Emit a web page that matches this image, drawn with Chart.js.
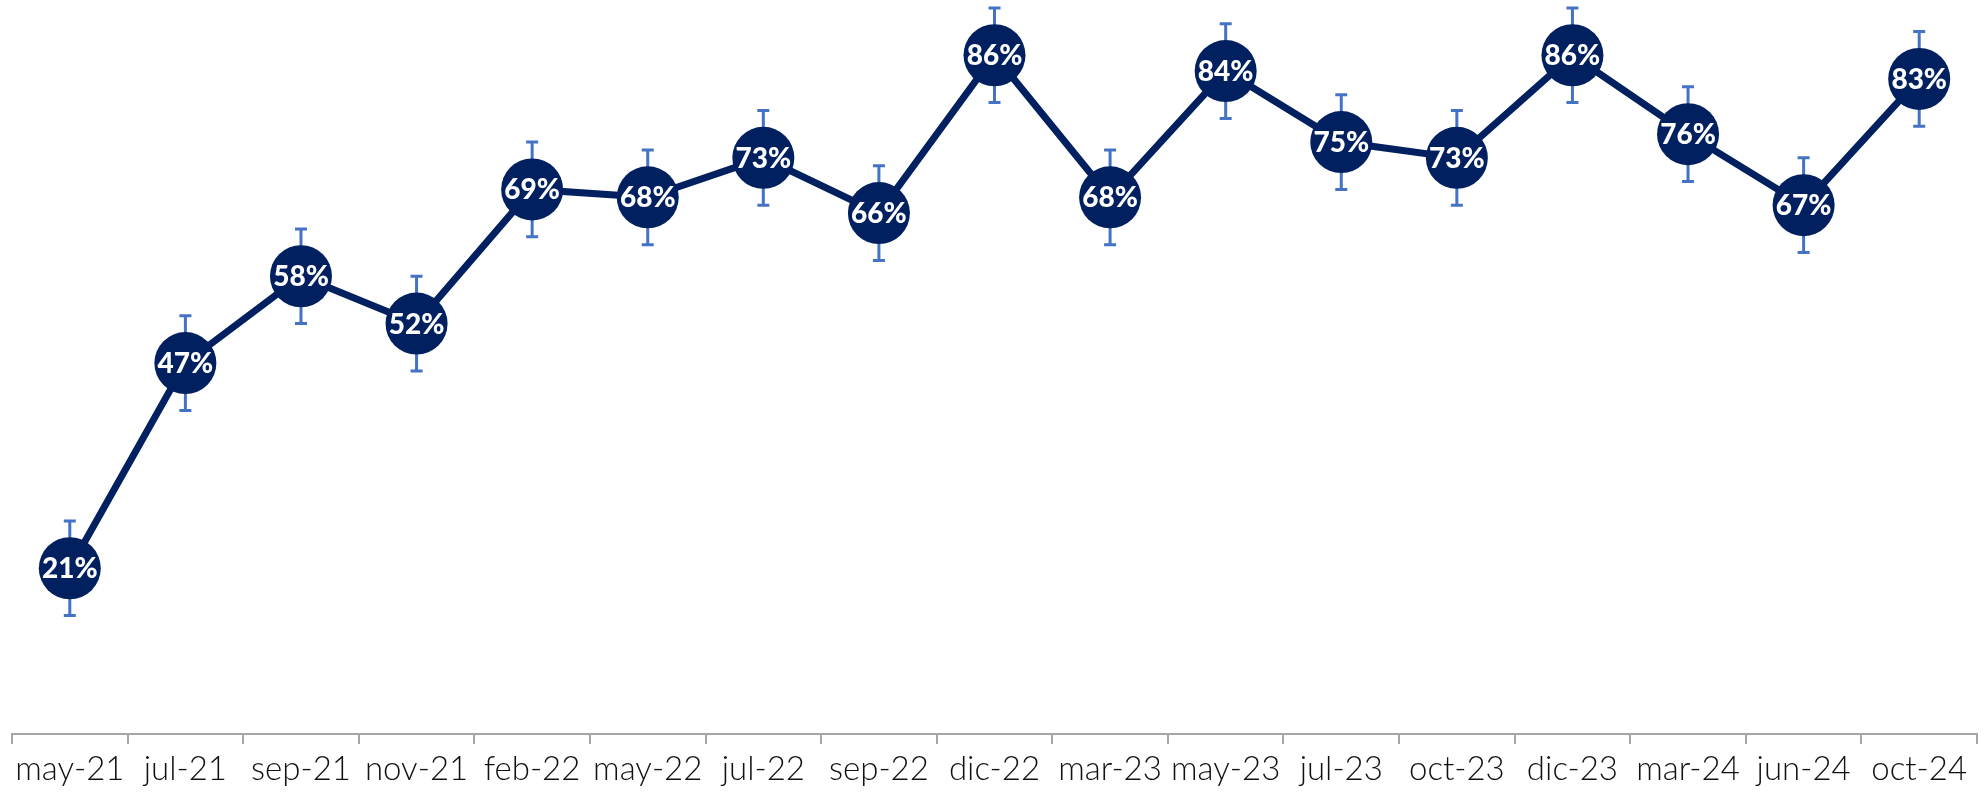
<!DOCTYPE html>
<html>
<head>
<meta charset="utf-8">
<script src="https://cdn.jsdelivr.net/npm/chart.js@4.4.1/dist/chart.umd.min.js"></script>
<style>
  html, body { margin: 0; padding: 0; background: #fff; }
  #wrap { width: 1985px; height: 798px; }
</style>
</head>
<body>
<div id="wrap"><canvas id="myChart"></canvas></div>
<script>
const labels = ['may-21', 'jul-21', 'sep-21', 'nov-21', 'feb-22', 'may-22', 'jul-22', 'sep-22', 'dic-22',
    'mar-23', 'may-23', 'jul-23', 'oct-23', 'dic-23', 'mar-24', 'jun-24', 'oct-24']
const values = [21, 47, 58, 52, 69, 68, 73, 66, 86, 68, 84, 75, 73, 86, 76, 67, 83]
const errors = [6, 6, 6, 6, 6, 6, 6, 6, 6, 6, 6, 6, 6, 6, 6, 6, 6]

const navy = '#002060'
const errColor = '#4472c4'

// error bars drawn under the line + markers
const errorBars = {
    id: 'errorBars',
    beforeDatasetsDraw(chart) {
        const ctx = chart.ctx
        const y = chart.scales.y
        const meta = chart.getDatasetMeta(0)
        ctx.save()
        ctx.strokeStyle = errColor
        ctx.lineWidth = 3
        meta.data.forEach((pt, i) => {
            const top = y.getPixelForValue(values[i] + errors[i])
            const bot = y.getPixelForValue(values[i] - errors[i])
            ctx.beginPath()
            ctx.moveTo(pt.x, top)
            ctx.lineTo(pt.x, bot)
            ctx.moveTo(pt.x - 6, top)
            ctx.lineTo(pt.x + 6, top)
            ctx.moveTo(pt.x - 6, bot)
            ctx.lineTo(pt.x + 6, bot)
            ctx.stroke()
        })
        ctx.restore()
    }
}

// percentage text inside each circle
const pointLabels = {
    id: 'pointLabels',
    afterDatasetsDraw(chart) {
        const ctx = chart.ctx
        const meta = chart.getDatasetMeta(0)
        ctx.save()
        ctx.fillStyle = '#fff'
        ctx.font = '900 28px Lato'
        ctx.textAlign = 'center'
        ctx.textBaseline = 'middle'
        meta.data.forEach((pt, i) => {
            ctx.fillText(values[i] + '%', pt.x, pt.y + 1)
        })
        ctx.restore()
    }
}

const config = {
    type: 'line',
    data: {
        labels: labels,
        datasets: [{
            data: values,
            borderColor: navy,
            borderWidth: 7,
            backgroundColor: navy,
            pointBackgroundColor: navy,
            pointBorderWidth: 0,
            pointRadius: 31,
            pointHoverRadius: 31,
            tension: 0,
            clip: false
        }]
    },
    options: {
        responsive: true,
        maintainAspectRatio: false,
        animation: false,
        events: [],
        layout: { autoPadding: false, padding: { left: 12, right: 8, top: 0, bottom: 0 } },
        plugins: {
            legend: { display: false },
            tooltip: { enabled: false }
        },
        scales: {
            x: {
                offset: true,
                grid: {
                    offset: true,
                    drawOnChartArea: false,
                    tickLength: 10,
                    color: '#a6a6a6',
                    lineWidth: 2
                },
                border: { color: '#a6a6a6', width: 2 },
                ticks: {
                    color: '#111',
                    font: { family: 'Lato', size: 33, weight: '300' },
                    padding: 6,
                    maxRotation: 0,
                    autoSkip: false
                },
                afterFit(scale) { scale.height = 64 }
            },
            y: {
                display: false,
                min: 0,
                max: 93
            }
        }
    },
    plugins: [errorBars, pointLabels]
}

const myChart = new Chart(document.querySelector('#myChart'), config)
</script>
</body>
</html>
